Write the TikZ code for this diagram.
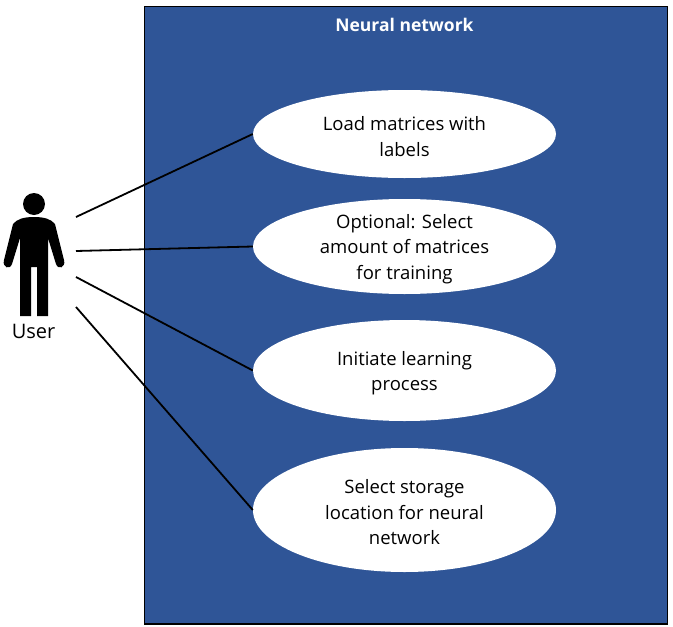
\documentclass[tikz,border=0pt]{standalone}
\usepackage{fontspec}
\setmainfont{Open Sans}
\usepackage{xcolor}
\usetikzlibrary{shapes.geometric}
\definecolor{netblue}{RGB}{47,85,151}
\newcommand{\firstline}{\rule{0pt}{19pt}}

\begin{document}
\begin{tikzpicture}
[x=1pt,y=-1pt]
\tikzset{
	usecase/.style = {ellipse, fill = white, inner sep = -8pt, minimum width = 303pt, align = center, font = \fontsize{18.5}{25.5}\selectfont},
	link/.style = {draw = black, line width = 1.8pt}
}
\useasboundingbox (0,0) rectangle (673,627);

\node(system) [draw = black, fill = netblue, line width = 1.2pt, rectangle, inner sep = 0, minimum width = 523pt, minimum height = 617.5pt] at (405.9,315.3){};
\node(title) [text = white, font = \fontsize{17.5}{22}\selectfont\bfseries] at (404.5,25){Neural network};

% the use cases
\node(load) [usecase, minimum height = 88pt] at (404.5,134){\firstline Load matrices with\\labels};
\node(amount) [usecase, minimum height = 95pt] at (404.5,246.5){\firstline Optional: Select\\amount of matrices\\for training};
\node(learn) [usecase, minimum height = 101pt] at (404.5,370.5){\firstline Initiate learning\\process};
\node(store) [usecase, minimum height = 124pt] at (404.5,510){\firstline Select storage\\location for neural\\network};

% the user
\fill (34,204) circle (11);
\fill (34,217) .. controls (24,217) and (17,219) .. (13,224) -- (4,260)
	.. controls (2,268) and (10,270) .. (12,264) -- (20,238) -- (20,316) -- (31,316) -- (31,267) -- (37,267) -- (37,316) -- (48,316) -- (48,238) -- (56,264)
	.. controls (58,270) and (66,268) .. (64,260) -- (55,224) .. controls (51,219) and (44,217) .. (34,217) -- cycle;
\node(user) [font = \fontsize{20}{24}\selectfont] at (33.5,331){User};

\coordinate (a) at (76,217);
\coordinate (b) at (76,251);
\coordinate (c) at (76,277);
\coordinate (d) at (76,307);

\draw [link] (a) -- (load.west);
\draw [link] (b) -- (amount.west);
\draw [link] (c) -- (learn.west);
\draw [link] (d) -- (store.west);
\end{tikzpicture}
\end{document}
